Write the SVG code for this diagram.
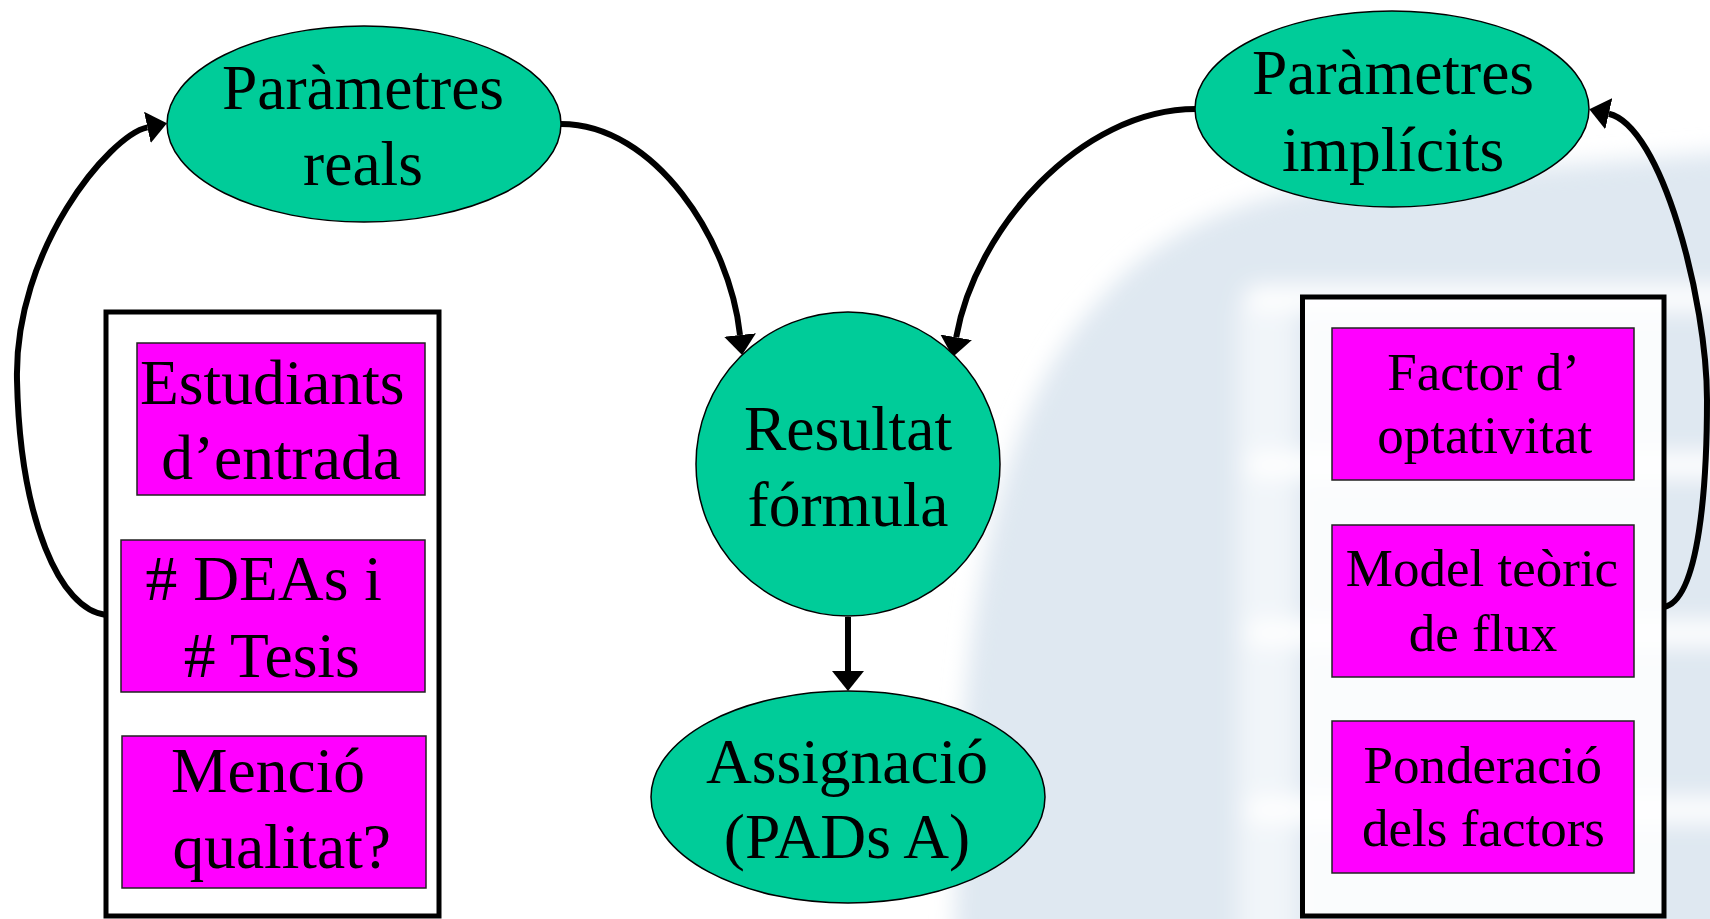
<svg xmlns="http://www.w3.org/2000/svg" width="1710" height="919" viewBox="0 0 1710 919">
<style>
.t{font-family:"Liberation Serif","Times New Roman",serif;fill:#000;text-anchor:middle}
.big{font-size:63.5px}
.small{font-size:53px}
.oval{fill:#00CC99;stroke:#000;stroke-width:1.5}
.box{fill:#FF00FF;stroke:#222;stroke-width:1.5}
.frame{fill:#fff;fill-opacity:0.85;stroke:#000;stroke-width:5}
.conn{fill:none;stroke:#000;stroke-width:6}
</style>
<defs>
<marker id="ah" viewBox="0 0 20 32" refX="0" refY="16" markerWidth="20" markerHeight="32" markerUnits="userSpaceOnUse" orient="auto">
<path d="M0,0 L20,16 L0,32 Z" fill="#000"/>
</marker>
<filter id="blur" x="-20%" y="-20%" width="140%" height="140%"><feGaussianBlur stdDeviation="11"/></filter>
</defs>
<rect width="1710" height="919" fill="#fff"/>
<g id="watermark" filter="url(#blur)">
<path d="M955,960 C955,700 975,430 1100,300 C1170,215 1280,185 1400,178 L1750,150 L1750,960 Z" fill="#dfe8f1"/>
<g fill="#fff">
<rect x="1245" y="286" width="520" height="24" rx="12"/>
<rect x="1245" y="453" width="520" height="24" rx="12"/>
<rect x="1245" y="621" width="520" height="24" rx="12"/>
<rect x="1245" y="798" width="520" height="24" rx="12"/>
<rect x="1238" y="290" width="58" height="680" rx="25" opacity="0.55"/>
</g>
</g>
<g id="connectors">
<path class="conn" marker-end="url(#ah)" d="M106,615 C60,610 20,520 17,380 C14,250 109.3,135.5 147.4,127.4"/>
<path class="conn" marker-end="url(#ah)" d="M561,124 C655,124 730,240 740,335"/>
<path class="conn" marker-end="url(#ah)" d="M1196,109 C1080,109 975,230 956.2,337.3"/>
<path class="conn" marker-end="url(#ah)" d="M1664,607 C1700,600 1707,480 1707,400 C1707,300 1661.4,125.6 1608.8,113.7"/>
<path class="conn" marker-end="url(#ah)" d="M848,617 L848,671"/>
</g>
<g id="frame-real">
<rect class="frame" x="106" y="312" width="333" height="604"/>
</g>
<g id="frame-implicit">
<rect class="frame" x="1302.5" y="297" width="361.5" height="619"/>
</g>
<g id="parametres-reals">
<ellipse class="oval" cx="364" cy="124" rx="197" ry="98"/>
<text class="t big" x="363" y="109.3">Paràmetres</text>
<text class="t big" x="363" y="185">reals</text>
</g>
<g id="parametres-implicits">
<ellipse class="oval" cx="1392" cy="109" rx="197" ry="98"/>
<text class="t big" x="1393" y="94.3">Paràmetres</text>
<text class="t big" x="1393" y="170.7">implícits</text>
</g>
<g id="resultat-formula">
<circle class="oval" cx="848" cy="464" r="152"/>
<text class="t big" x="848" y="450">Resultat</text>
<text class="t big" x="848" y="526">fórmula</text>
</g>
<g id="assignacio">
<ellipse class="oval" cx="848" cy="797" rx="197" ry="106"/>
<text class="t big" x="847" y="782.7">Assignació</text>
<text class="t big" x="847" y="858">(PADs A)</text>
</g>
<g id="estudiants">
<rect class="box" x="137" y="343" width="288" height="152"/>
<text class="t big" x="272.3" y="404">Estudiants</text>
<text class="t big" x="281" y="479.3">d’entrada</text>
</g>
<g id="deas-tesis">
<rect class="box" x="121" y="540" width="304" height="152"/>
<text class="t big" x="263.7" y="600"># DEAs i</text>
<text class="t big" x="271.7" y="676.7"># Tesis</text>
</g>
<g id="mencio">
<rect class="box" x="122" y="736" width="304" height="152"/>
<text class="t big" x="268" y="791.7">Menció</text>
<text class="t big" x="281.7" y="868">qualitat?</text>
</g>
<g id="factor-optativitat">
<rect class="box" x="1332" y="328" width="302" height="152"/>
<text class="t small" x="1483.6" y="390">Factor d’</text>
<text class="t small" x="1484.7" y="452.5">optativitat</text>
</g>
<g id="model-teoric">
<rect class="box" x="1332" y="525" width="302" height="152"/>
<text class="t small" x="1482" y="585.6">Model teòric</text>
<text class="t small" x="1483" y="651">de flux</text>
</g>
<g id="ponderacio">
<rect class="box" x="1332" y="721" width="302" height="152"/>
<text class="t small" x="1482.8" y="783">Ponderació</text>
<text class="t small" x="1483.5" y="845.7">dels factors</text>
</g>
</svg>
